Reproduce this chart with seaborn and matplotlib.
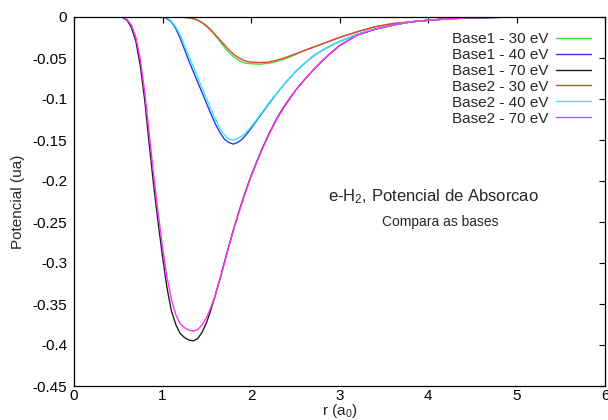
import matplotlib
matplotlib.use("Agg")
import matplotlib.pyplot as plt
import seaborn as sns
import pandas as pd

# ---- data ----
r = [0.0, 0.3, 0.5, 0.55, 0.6, 0.65, 0.7, 0.75, 0.8, 0.85, 0.9, 0.95,
     1.0, 1.05, 1.1, 1.15, 1.2, 1.25, 1.3, 1.35, 1.4, 1.45, 1.5, 1.55,
     1.6, 1.65, 1.7, 1.75, 1.8, 1.85, 1.9, 1.95, 2.0, 2.1, 2.2, 2.3,
     2.4, 2.5, 2.6, 2.7, 2.8, 2.9, 3.0, 3.2, 3.4, 3.6, 3.8, 4.0, 4.25,
     4.5, 4.75, 5.0]

base1_30 = [0, 0, 0, 0, 0, 0, 0, 0, 0, 0, 0, 0,
            0, 0, 0, 0, 0, -0.0005, -0.001, -0.002, -0.004, -0.007, -0.012, -0.017,
            -0.023, -0.030, -0.037, -0.043, -0.048, -0.052, -0.055, -0.0565, -0.057, -0.0575, -0.0565, -0.054,
            -0.0505, -0.046, -0.041, -0.037, -0.033, -0.029, -0.025, -0.018, -0.012, -0.008, -0.006, -0.004, -0.002,
            -0.001, -0.0005, 0]
base1_40 = [0, 0, 0, 0, 0, 0, 0, 0, 0, 0, 0, 0,
            0, -0.002, -0.006, -0.014, -0.026, -0.040, -0.054, -0.067, -0.080, -0.093, -0.106, -0.119,
            -0.131, -0.141, -0.149, -0.153, -0.155, -0.153, -0.149, -0.143, -0.136, -0.121, -0.106, -0.092,
            -0.079, -0.067, -0.057, -0.048, -0.041, -0.035, -0.030, -0.021, -0.015, -0.010, -0.006, -0.004, -0.002,
            -0.001, -0.0005, 0]
base1_70 = [0, 0, 0, -0.0005, -0.004, -0.013, -0.030, -0.060, -0.102, -0.155, -0.205, -0.250,
            -0.292, -0.330, -0.358, -0.375, -0.386, -0.391, -0.394, -0.395, -0.392, -0.384, -0.372, -0.356,
            -0.338, -0.319, -0.299, -0.279, -0.260, -0.242, -0.225, -0.209, -0.194, -0.167, -0.143, -0.122,
            -0.105, -0.090, -0.077, -0.065, -0.054, -0.044, -0.035, -0.022, -0.015, -0.010, -0.006, -0.004, -0.002,
            -0.001, -0.0005, 0]
base2_30 = [0, 0, 0, 0, 0, 0, 0, 0, 0, 0, 0, 0,
            0, 0, 0, 0, 0, -0.0005, -0.001, -0.002, -0.004, -0.007, -0.011, -0.016,
            -0.022, -0.028, -0.034, -0.040, -0.045, -0.049, -0.052, -0.054, -0.055, -0.0555, -0.055, -0.0525,
            -0.049, -0.045, -0.041, -0.037, -0.033, -0.029, -0.025, -0.018, -0.012, -0.008, -0.006, -0.004, -0.002,
            -0.001, -0.0005, 0]
base2_40 = [0, 0, 0, 0, 0, 0, 0, 0, 0, 0, 0, 0,
            0, -0.001, -0.005, -0.012, -0.022, -0.035, -0.048, -0.061, -0.074, -0.087, -0.100, -0.113,
            -0.125, -0.136, -0.144, -0.149, -0.150, -0.148, -0.145, -0.140, -0.134, -0.120, -0.105, -0.092,
            -0.079, -0.067, -0.057, -0.048, -0.041, -0.035, -0.030, -0.021, -0.015, -0.010, -0.006, -0.004, -0.002,
            -0.001, -0.0005, 0]
base2_70 = [0, 0, 0, -0.0004, -0.003, -0.010, -0.025, -0.052, -0.092, -0.142, -0.192, -0.238,
            -0.280, -0.317, -0.344, -0.363, -0.374, -0.379, -0.382, -0.383, -0.381, -0.375, -0.366, -0.353,
            -0.338, -0.320, -0.300, -0.280, -0.261, -0.243, -0.226, -0.210, -0.195, -0.168, -0.144, -0.123,
            -0.106, -0.090, -0.077, -0.065, -0.054, -0.044, -0.035, -0.022, -0.015, -0.010, -0.006, -0.004, -0.002,
            -0.001, -0.0005, 0]

series_names = ["Base1 - 30 eV", "Base1 - 40 eV", "Base1 - 70 eV",
                "Base2 - 30 eV", "Base2 - 40 eV", "Base2 - 70 eV"]
series_values = [base1_30, base1_40, base1_70, base2_30, base2_40, base2_70]
colors = ["#33e833", "#3333f0", "#202020", "#f03a3a", "#33eeee", "#ff33ff"]

xticks = [0, 1, 2, 3, 4, 5, 6]
xtick_labels = ["0", "1", "2", "3", "4", "5", "6"]
yticks = [0, -0.05, -0.1, -0.15, -0.2, -0.25, -0.3, -0.35, -0.4, -0.45]
ytick_labels = ["0", "-0.05", "-0.1", "-0.15", "-0.2", "-0.25", "-0.3", "-0.35", "-0.4", "-0.45"]

# ---- long-form table ----
rows = []
for name, vals in zip(series_names, series_values):
    for x, y in zip(r, vals):
        rows.append({"r": x, "V": y, "serie": name})
df = pd.DataFrame(rows)

sns.set_style("white")
plt.rcParams["font.family"] = ["Liberation Sans", "DejaVu Sans"]
plt.rcParams["mathtext.fontset"] = "custom"
plt.rcParams["mathtext.rm"] = "Liberation Sans"
plt.rcParams["mathtext.it"] = "Liberation Sans:italic"

fig = plt.figure(figsize=(6.08, 4.2), dpi=100)
ax = fig.add_axes([74 / 608, 1 - 386 / 420, (605 - 74) / 608, (386 - 17) / 420])

sns.lineplot(data=df, x="r", y="V", hue="serie", hue_order=series_names,
             palette=dict(zip(series_names, colors)), estimator=None, sort=False,
             linewidth=1.0, ax=ax)

ax.set_xlim(0, 6)
ax.set_ylim(-0.45, 0)
ax.set_xticks(xticks)
ax.set_xticklabels(xtick_labels)
ax.set_yticks(yticks)
ax.set_yticklabels(ytick_labels)
ax.tick_params(direction="in", length=4.5, width=0.8, top=True, right=True,
               labelsize=11, colors="black", pad=5)
ax.tick_params(axis="x", labeltop=False, pad=2.5)
ax.tick_params(axis="y", labelright=False)
for s in ax.spines.values():
    s.set_visible(True)
    s.set_color("black")
    s.set_linewidth(0.9)

ax.set_xlabel(r"r ($\mathrm{a}_0$)", fontsize=11, labelpad=-1)
ax.set_ylabel("Potencial (ua)", fontsize=11, labelpad=5)

ax.text(0.677, 0.512, r"e-H$_2$, Potencial de Absorcao", transform=ax.transAxes,
        ha="center", va="center", fontsize=12)
ax.text(0.689, 0.444, "Compara as bases", transform=ax.transAxes,
        ha="center", va="center", fontsize=10)

leg = ax.legend(loc="upper right", bbox_to_anchor=(0.985, 0.975), frameon=False,
                markerfirst=False, fontsize=11, handlelength=2.3, handletextpad=0.5,
                labelspacing=0.12, borderaxespad=0.0, title=None)

fig.savefig("out.png", dpi=100)
